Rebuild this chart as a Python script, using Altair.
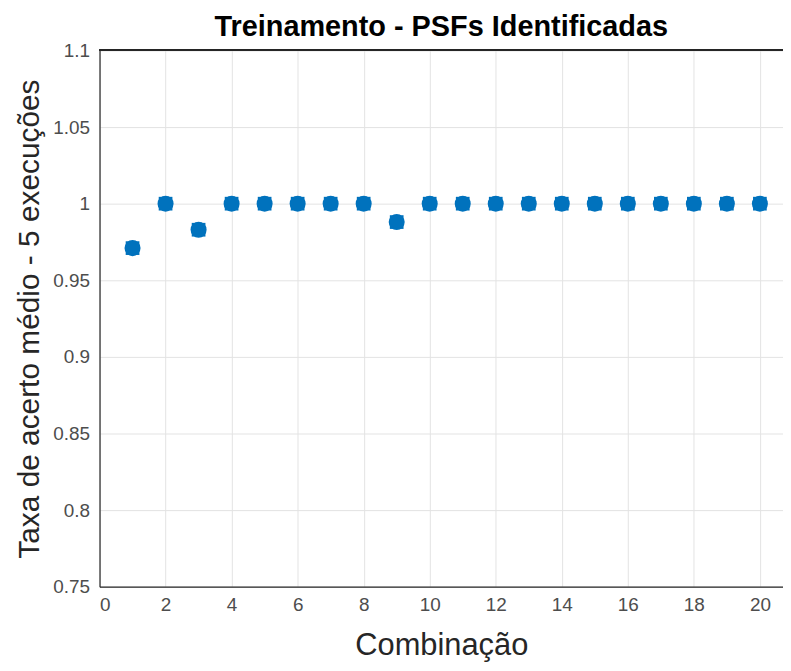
import altair as alt
import pandas as pd

combinacao = list(range(1, 21))
taxa = [0.971, 1.0, 0.983, 1.0, 1.0, 1.0, 1.0, 1.0, 0.988, 1.0,
        1.0, 1.0, 1.0, 1.0, 1.0, 1.0, 1.0, 1.0, 1.0, 1.0]
x_ticks = list(range(0, 21, 2))
y_ticks = [0.75, 0.8, 0.85, 0.9, 0.95, 1.0, 1.05, 1.1]

df = pd.DataFrame({"Combinação": combinacao, "Taxa": taxa})
blue = "#0072BD"
FONT = "Liberation Sans"

xs = alt.X("Combinação:Q", scale=alt.Scale(domain=[0, 20.7], nice=False, clamp=False),
           axis=alt.Axis(values=x_ticks, title="Combinação", format="d"))
ys = alt.Y("Taxa:Q", scale=alt.Scale(domain=[0.75, 1.1], nice=False, zero=False),
           axis=alt.Axis(values=y_ticks, title="Taxa de acerto médio - 5 execuções",
                         labelExpr="format(datum.value, '.4~f')", titleFontSize=30))

circles = alt.Chart(df).mark_point(filled=True, shape="circle", size=260, color=blue, opacity=1).encode(x=xs, y=ys)
squares = alt.Chart(df).mark_point(filled=True, shape="square", size=190, color=blue, opacity=1).encode(x=xs, y=ys)

top_line = alt.Chart(df).mark_rule(color="#262626", strokeWidth=1.2).encode(
    y=alt.value(0), x=alt.value(0), x2=alt.value(700))

chart = alt.layer(top_line, circles, squares).properties(
    width=687, height=539,
    title=alt.TitleParams("Treinamento - PSFs Identificadas", font=FONT, fontSize=29,
                          fontWeight="bold", color="black", offset=0),
    autosize=alt.AutoSizeParams(type="none"),
    padding={"left": 92, "top": 41, "right": 0, "bottom": 75},
).configure_view(stroke=None).configure_axis(
    grid=True, gridColor="#e3e3e3", gridWidth=1,
    domainColor="#262626", domainWidth=1.2, ticks=False,
    labelFont=FONT, labelFontSize=19, labelColor="#4d4d4d",
    titleFont=FONT, titleFontSize=31, titleColor="#262626", titleFontWeight="normal",
).configure_axisX(labelPadding=9, titlePadding=16).configure_axisY(labelPadding=10, titlePadding=8)

chart.save("out.html", embed_options={"renderer": "svg", "actions": False})
